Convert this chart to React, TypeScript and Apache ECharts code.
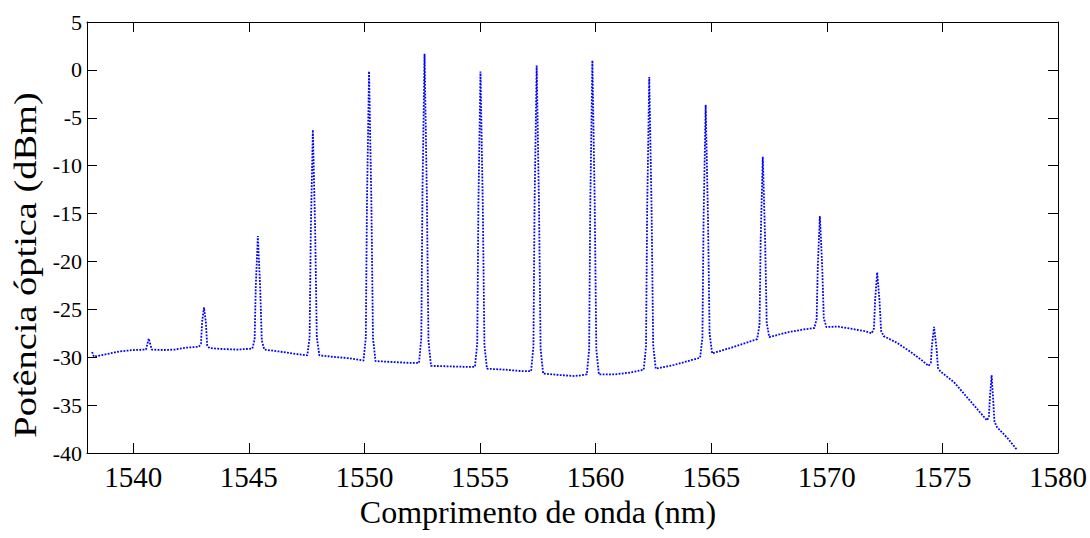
import React, { useEffect, useRef } from "react";
import * as echarts from "echarts";

// Wavelength (nm) of each sampled point of the spectrum
const wavelength: number[] = [
  1538.22, 1538.3, 1538.8, 1539.4, 1540.0, 1540.55, 1540.67, 1540.8, 1541.3, 1541.8, 1542.3,
  1542.84, 1542.93, 1542.98, 1543.06, 1543.14, 1543.2, 1543.3,
  1543.9, 1544.5,
  1545.15, 1545.25, 1545.3, 1545.39, 1545.49, 1545.56, 1545.67,
  1546.3, 1547.0,
  1547.53, 1547.63, 1547.68, 1547.77, 1547.87, 1547.94, 1548.05,
  1548.6, 1549.3,
  1549.96, 1550.06, 1550.11, 1550.2, 1550.3, 1550.37, 1550.48,
  1551.2, 1552.0,
  1552.36, 1552.46, 1552.51, 1552.6, 1552.7, 1552.77, 1552.88,
  1553.6, 1554.3,
  1554.78, 1554.88, 1554.93, 1555.02, 1555.12, 1555.19, 1555.3,
  1556.1, 1556.8,
  1557.21, 1557.31, 1557.36, 1557.45, 1557.55, 1557.62, 1557.73,
  1558.4, 1559.1,
  1559.62, 1559.72, 1559.77, 1559.86, 1559.96, 1560.03, 1560.14,
  1560.8, 1561.5,
  1562.08, 1562.18, 1562.23, 1562.32, 1562.42, 1562.49, 1562.6,
  1563.4, 1564.0,
  1564.52, 1564.62, 1564.67, 1564.76, 1564.86, 1564.93, 1565.04,
  1565.8, 1566.5,
  1566.99, 1567.09, 1567.14, 1567.23, 1567.33, 1567.4, 1567.51,
  1568.3, 1569.0,
  1569.46, 1569.56, 1569.61, 1569.7, 1569.8, 1569.87, 1569.98,
  1570.5, 1571.1, 1571.6,
  1571.94, 1572.04, 1572.09, 1572.18, 1572.28, 1572.35, 1572.46,
  1573.0, 1573.6, 1574.1,
  1574.4, 1574.5, 1574.55, 1574.64, 1574.74, 1574.81, 1574.92,
  1575.5, 1576.0, 1576.5,
  1576.93, 1577.01, 1577.06, 1577.13, 1577.19, 1577.25, 1577.36,
  1577.8, 1578.24,
];

// Optical power (dBm) at each wavelength above
const power: number[] = [
  -29.45, -29.95, -29.7, -29.4, -29.25, -29.2, -28.05, -29.2, -29.25, -29.2, -29.0,
  -28.9, -28.6, -26.3, -24.8, -26.3, -28.8, -29.05,
  -29.15, -29.2,
  -29.1, -28.16, -22.64, -17.35, -22.68, -28.25, -29.2,
  -29.4, -29.65,
  -29.8, -27.92, -16.86, -6.27, -16.86, -27.92, -29.8,
  -29.95, -30.1,
  -30.35, -27.93, -13.74, -0.15, -13.76, -27.98, -30.4,
  -30.5, -30.6,
  -30.6, -28.02, -12.85, 1.68, -12.98, -28.29, -30.9,
  -30.95, -31.0,
  -31.0, -28.53, -14.04, -0.17, -14.13, -28.72, -31.2,
  -31.3, -31.45,
  -31.45, -28.9, -13.9, 0.46, -14.01, -29.13, -31.7,
  -31.85, -31.97,
  -31.8, -29.18, -13.77, 0.98, -13.77, -29.18, -31.8,
  -31.8, -31.6,
  -31.3, -28.86, -14.5, -0.75, -14.45, -28.76, -31.2,
  -30.8, -30.4,
  -30.05, -27.94, -15.53, -3.65, -15.33, -27.52, -29.6,
  -29.05, -28.5,
  -28.1, -26.58, -17.63, -9.06, -17.54, -26.39, -27.9,
  -27.4, -27.1,
  -26.95, -26.02, -20.52, -15.26, -20.47, -25.92, -26.85,
  -26.8, -27.05, -27.25,
  -27.5, -26.99, -24.01, -21.15, -24.14, -27.27, -27.8,
  -28.45, -29.4, -30.3,
  -30.9, -30.58, -28.67, -26.84, -28.94, -31.13, -31.5,
  -32.6, -34.0, -35.4,
  -36.6, -36.2, -34.0, -31.9, -34.2, -36.7, -37.3,
  -38.4, -39.7,
];

const xTicks: number[] = [1540, 1545, 1550, 1555, 1560, 1565, 1570, 1575, 1580];
const xTitle = "Comprimento de onda (nm)";
const yTitle = "Potência óptica (dBm)";

const FONT = "Liberation Serif";

export default function App() {
  const ref = useRef<HTMLDivElement>(null);

  useEffect(() => {
    if (!ref.current) return;
    const chart = echarts.init(ref.current, undefined, { renderer: "svg" });
    const data = wavelength.map((w, i) => [w, power[i]]);
    const axisLine = { show: true, onZero: false, lineStyle: { color: "#000", width: 1 } };
    const tick = { show: true, inside: true, length: 10, lineStyle: { color: "#000", width: 1 } };

    chart.setOption({
      animation: false,
      backgroundColor: "#ffffff",
      textStyle: { fontFamily: FONT, color: "#000" },
      grid: { left: 87, right: 30, top: 22, bottom: 85, containLabel: false },
      xAxis: [
        {
          type: "value",
          min: 1538,
          max: 1580,
          position: "bottom",
          axisLine,
          axisTick: { ...tick, customValues: xTicks },
          axisLabel: {
            customValues: xTicks,
            formatter: (v: number) => String(v),
            color: "#000",
            fontFamily: FONT,
            fontSize: 29,
            margin: 9,
          },
          splitLine: { show: false },
        },
        {
          type: "value",
          min: 1538,
          max: 1580,
          position: "top",
          axisLine,
          axisTick: { ...tick, customValues: xTicks },
          axisLabel: { show: false },
          splitLine: { show: false },
        },
      ],
      yAxis: [
        {
          type: "value",
          min: -40,
          max: 5,
          interval: 5,
          position: "left",
          axisLine,
          axisTick: tick,
          axisLabel: {
            formatter: (v: number) => String(v),
            color: "#000",
            fontFamily: FONT,
            fontSize: 22,
            margin: 5,
          },
          splitLine: { show: false },
        },
        {
          type: "value",
          min: -40,
          max: 5,
          interval: 5,
          position: "right",
          axisLine,
          axisTick: tick,
          axisLabel: { show: false },
          splitLine: { show: false },
        },
      ],
      graphic: [
        {
          type: "text",
          x: 538,
          y: 512,
          style: {
            text: xTitle,
            fill: "#000",
            fontFamily: FONT,
            fontSize: 32,
            textAlign: "center",
            textVerticalAlign: "middle",
          },
        },
        {
          type: "text",
          x: 26,
          y: 265,
          rotation: Math.PI / 2,
          scaleX: 1.2,
          style: {
            text: yTitle,
            fill: "#000",
            fontFamily: FONT,
            fontSize: 32,
            textAlign: "center",
            textVerticalAlign: "middle",
          },
        },
      ],
      series: [
        {
          type: "line",
          xAxisIndex: 0,
          yAxisIndex: 0,
          data,
          showSymbol: false,
          symbol: "none",
          lineStyle: { color: "#0000ff", width: 1.8, type: [1.8, 1.4] },
          clip: true,
        },
      ],
    });

    return () => chart.dispose();
  }, []);

  return (
    <div
      ref={ref}
      style={{ position: "absolute", left: 0, top: 0, width: 1090, height: 538 }}
    />
  );
}
